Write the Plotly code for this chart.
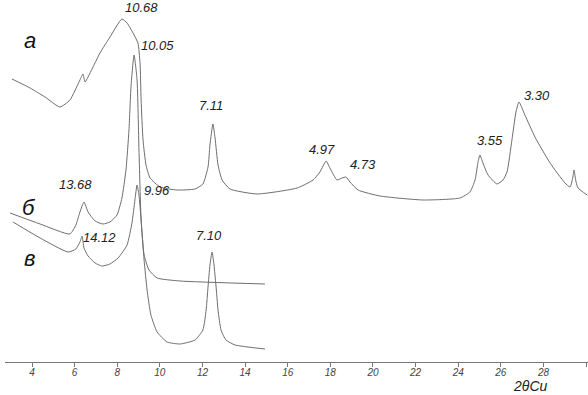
import plotly.graph_objects as go

# Curve а
a_2theta = [3.06, 3.91, 4.61, 5.31, 5.78, 6.25, 6.39, 6.49, 6.63, 7.19, 7.66, 8.22, 8.46, 8.74, 8.97,
            9.07, 9.12, 9.21, 9.35, 9.54, 10.01, 10.80, 11.65, 12.02, 12.26, 12.35, 12.49, 12.59, 12.73,
            12.92, 13.29, 14.56, 16.44, 17.19, 17.51, 17.80, 17.98, 18.31, 18.55, 18.73, 18.92, 19.30,
            20.33, 22.35, 24.08, 24.55, 24.79, 24.93, 25.02, 25.16, 25.40, 25.82, 26.10, 26.29, 26.52,
            26.71, 26.85, 27.13, 27.60, 28.31, 29.01, 29.25, 29.39, 29.43, 29.53, 29.62, 30.05]
a_int = [283, 274, 265, 255, 262, 282, 288, 280, 285, 309, 325, 343, 339, 329, 319,
         299, 262, 222, 197, 184, 175, 172, 173, 178, 195, 217, 238, 224, 197,
         182, 173, 168, 174, 182, 190, 201, 194, 182, 184, 185, 180, 172,
         166, 162, 164, 170, 182, 200, 207, 199, 187, 178, 182, 190, 222,
         250, 260, 247, 225, 199, 179, 175, 186, 192, 180, 174, 167]

# Curve б
b_2theta = [2.97, 4.38, 5.78, 6.06, 6.25, 6.44, 6.63, 6.96, 7.33, 7.66, 7.99, 8.22, 8.41, 8.55, 8.65,
            8.79, 8.93, 9.02, 9.12, 9.26, 9.49, 9.87, 10.95, 14.93]
b_int = [149, 138, 128, 137, 150, 160, 150, 141, 138, 140, 147, 164, 192, 232, 277,
         307, 282, 212, 142, 107, 92, 84, 81, 78]

# Curve в
v_2theta = [3.11, 4.38, 5.69, 6.06, 6.25, 6.35, 6.44, 6.63, 6.96, 7.28, 7.66, 8.04, 8.46, 8.69, 8.83,
            8.93, 9.02, 9.12, 9.26, 9.40, 9.58, 9.87, 10.34, 10.95, 11.65, 12.02, 12.17, 12.26, 12.35,
            12.45, 12.54, 12.63, 12.73, 12.87, 13.10, 13.53, 14.93]
v_int = [140, 124, 110, 113, 120, 126, 114, 106, 99, 96, 98, 104, 117, 139, 162,
         177, 167, 142, 102, 72, 47, 30, 20, 18, 22, 32, 52, 75, 97,
         110, 97, 77, 52, 32, 22, 17, 13]

# Peak labels (d-spacings, Å)
peak_labels = ["10.68", "10.05", "7.11", "4.97", "4.73", "3.55", "3.30", "13.68", "14.12", "9.96", "7.10"]
peak_x = [9.12, 9.91, 12.40, 17.61, 19.53, 25.49, 27.70, 6.06, 7.19, 9.87, 12.31]
peak_y = [355, 317, 257, 213, 198, 222, 267, 178, 125, 172, 127]

curve_names = ["а", "б", "в"]
curve_label_x = [3.91, 3.86, 3.86]
curve_label_y = [322, 155, 104]

tick_vals = list(range(4, 32, 2))

fig = go.Figure()
line_style = dict(color="#6e6e6e", width=1, shape="spline", smoothing=0.5)
for xs, ys, nm in [(a_2theta, a_int, curve_names[0]), (b_2theta, b_int, curve_names[1]), (v_2theta, v_int, curve_names[2])]:
    fig.add_trace(go.Scatter(x=xs, y=ys, mode="lines", line=line_style, name=nm, showlegend=False, hoverinfo="skip"))

fnt = "Liberation Sans, DejaVu Sans, sans-serif"
for t, x, y in zip(peak_labels, peak_x, peak_y):
    fig.add_annotation(x=x, y=y, text=t, showarrow=False,
                       font=dict(family=fnt, size=13, color="#222", style="italic"))
for t, x, y in zip(curve_names, curve_label_x, curve_label_y):
    fig.add_annotation(x=x, y=y, text=t, showarrow=False,
                       font=dict(family=fnt, size=22, color="#111", style="italic"))
fig.add_annotation(x=27.37, y=0, yref="paper", yanchor="middle", yshift=-24, text="2θCu", showarrow=False,
                   font=dict(family=fnt, size=14, color="#222", style="italic"))

fig.update_layout(
    width=588, height=395,
    margin=dict(l=5, r=0, t=0, b=33),
    paper_bgcolor="white", plot_bgcolor="white",
    xaxis=dict(range=[2.733, 30.09], tickvals=tick_vals, ticktext=[str(v) for v in tick_vals],
               showgrid=False, zeroline=False, showline=True, linecolor="#777", linewidth=1,
               ticks="outside", ticklen=4, tickcolor="#777", ticklabelstandoff=-3,
               tickfont=dict(family=fnt, size=10, color="#444", style="italic")),
    yaxis=dict(range=[0, 362], visible=False, showgrid=False, zeroline=False),
)

fig.write_html("out.html")
